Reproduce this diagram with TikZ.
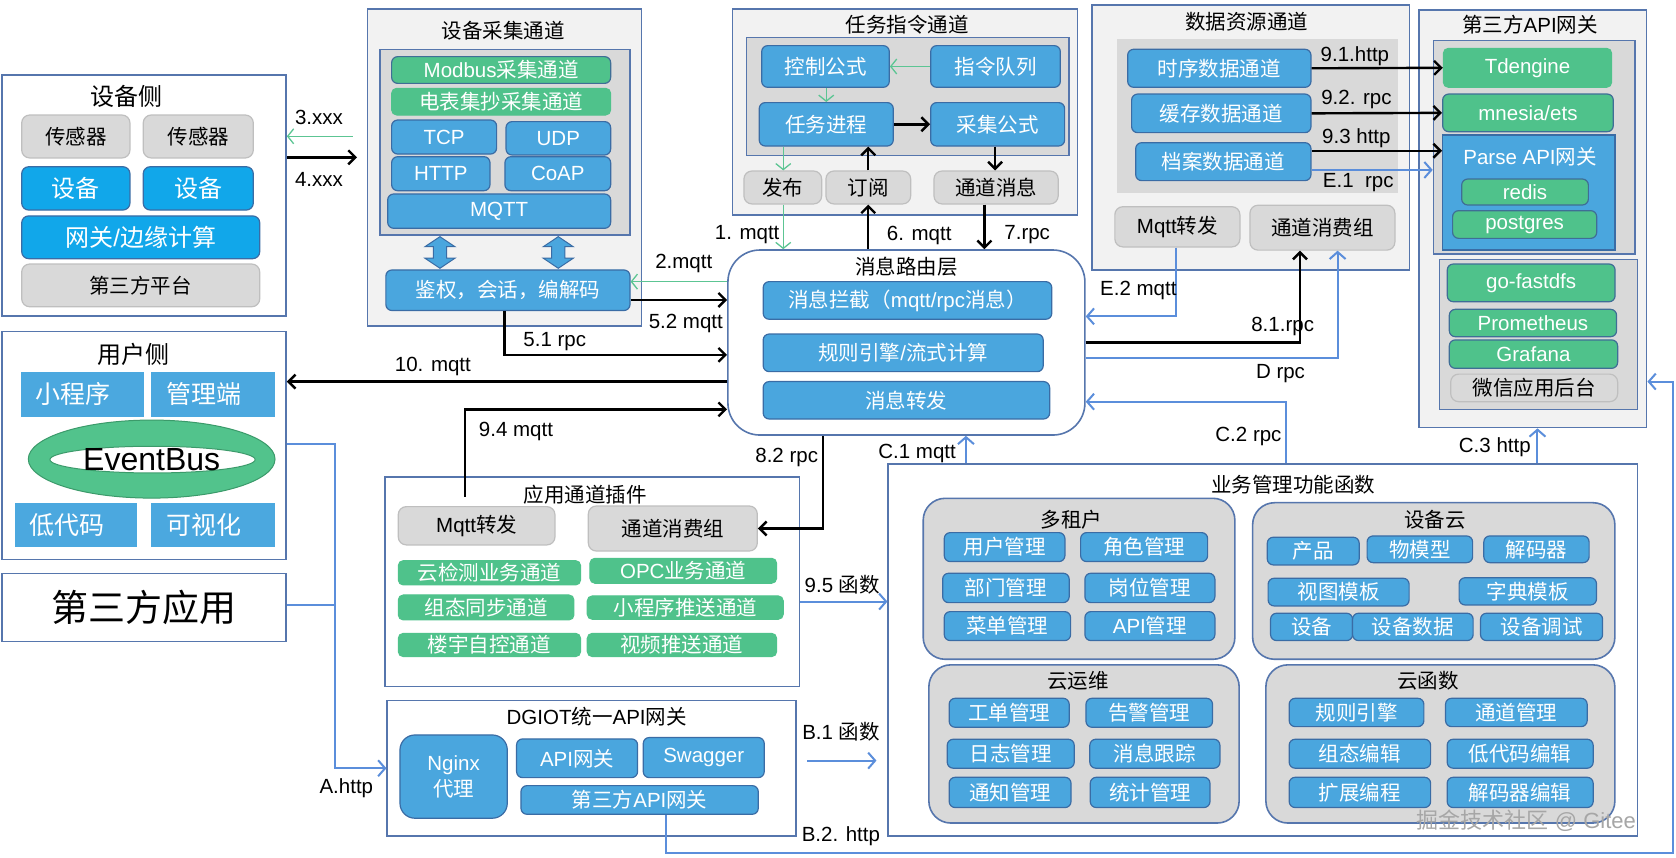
\documentclass[tikz,border=0pt]{standalone}
\usepackage{fontspec}
\setmainfont{Liberation Sans}
\newfontfamily\cjkfont{Noto Sans CJK SC}
\usetikzlibrary{arrows.meta}
\newcount\cjkcnt
\XeTeXinterchartokenstate=1
\newXeTeXintercharclass\cjkcls
\cjkcnt="4E00
\loop\ifnum\cjkcnt<"A000 \XeTeXcharclass\cjkcnt=\cjkcls \advance\cjkcnt by 1 \repeat
\cjkcnt="3000
\loop\ifnum\cjkcnt<"3040 \XeTeXcharclass\cjkcnt=\cjkcls \advance\cjkcnt by 1 \repeat
\cjkcnt="FF00
\loop\ifnum\cjkcnt<"FFF0 \XeTeXcharclass\cjkcnt=\cjkcls \advance\cjkcnt by 1 \repeat
\XeTeXinterchartoks 0 \cjkcls = {\begingroup\cjkfont}
\XeTeXinterchartoks 4095 \cjkcls = {\begingroup\cjkfont}
\XeTeXinterchartoks \cjkcls 0 = {\endgroup}
\XeTeXinterchartoks \cjkcls 4095 = {\endgroup}

\definecolor{bord}{HTML}{5676AD}
\definecolor{panel}{HTML}{F2F2F2}
\definecolor{grayp}{HTML}{D9D9D9}
\definecolor{grayb}{HTML}{BFBFBF}
\definecolor{bfill}{HTML}{4AA6DE}
\definecolor{bbord}{HTML}{3A6CA5}
\definecolor{bright}{HTML}{11A7EA}
\definecolor{gfill}{HTML}{4FC28B}
\definecolor{gbord}{HTML}{3F6E96}
\definecolor{garrow}{HTML}{5CC593}
\definecolor{barrow}{HTML}{5B8EDB}
\definecolor{ufill}{HTML}{4BA8DF}
\definecolor{egreen}{HTML}{52C38C}
\definecolor{egbord}{HTML}{3B9A6A}
\newcommand\fsz[1]{\fontsize{#1}{#1}\selectfont}
% box from corner (x1,y1) to (x2,y2) in picture units
\newcommand\bx[7][]{%
  \pgfmathsetmacro\bxcx{(#3+#5)/2}\pgfmathsetmacro\bxcy{(#4+#6)/2}%
  \pgfmathsetmacro\bxw{(#5-#3)*1.06888}\pgfmathsetmacro\bxh{(#6-#4)*1.06888}%
  \node[#1, minimum width=\bxw pt, minimum height=\bxh pt] (#2) at (\bxcx,\bxcy) {#7};}

\tikzset{
  every node/.style={inner sep=0pt, font=\fsz{20.5}},
  outbox/.style={draw=bord, line width=1.6pt, fill=white},
  chan/.style={draw=bord, line width=1.6pt, fill=panel},
  inpanel/.style={draw=bord, line width=1.4pt, fill=grayp},
  roundpanel/.style={draw=bord, line width=1.6pt, fill=grayp, rounded corners=22pt},
  bbox/.style={draw=bbord, line width=1.2pt, fill=bfill, rounded corners=6pt, text=white},
  brbox/.style={draw=bbord, line width=1.2pt, fill=bright, rounded corners=7pt, text=white, font=\fsz{24}},
  gybox/.style={draw=grayb, line width=1.2pt, fill=grayp, rounded corners=8pt},
  gbox/.style={draw=gbord, line width=1.2pt, fill=gfill, rounded corners=6pt, text=white},
  gboxn/.style={draw=gfill, line width=1pt, fill=gfill, rounded corners=5pt, text=white},
  ubox/.style={fill=ufill},
  ulab/.style={text=white, font=\fsz{25}, xshift=-9pt},
  blk/.style={line width=2.4pt, -{Straight Barb[length=7pt,width=14pt]}},
  grn/.style={draw=garrow, line width=1.3pt, -{Straight Barb[length=6pt,width=15pt]}},
  blu/.style={draw=barrow, line width=2pt, -{Straight Barb[length=7pt,width=16pt]}},
  blul/.style={draw=barrow, line width=2pt},
  dbl/.style={draw=bbord, line width=1pt, fill=bfill},
}

\begin{document}
\begin{tikzpicture}[x={(1.06888pt,0pt)}, y={(0pt,-1.06888pt)}]
\fill[white] (0,0) rectangle (1568,801.8);
\useasboundingbox (0,0) rectangle (1568,801.8);

% ---------- device side ----------
\bx[outbox]{devside}{1.6}{70.2}{267.6}{295.6}{}
\node[font=\fsz{24}] (devsidet) at (118.5,90.4) {设备侧};
\bx[gybox]{sens1}{20.3}{107.6}{121.6}{147.8}{传感器}
\bx[gybox]{sens2}{134}{107.6}{237}{147.8}{传感器}
\bx[brbox]{dev1}{20.3}{156}{121.6}{196.5}{设备}
\bx[brbox]{dev2}{134}{156}{237}{196.5}{设备}
\bx[brbox]{gw}{20.3}{202}{243}{242}{网关/边缘计算}
\bx[gybox]{tpplat}{20.3}{247}{243}{287}{第三方平台}

% ---------- user side ----------
\bx[outbox]{userside}{1.6}{310.3}{267.6}{523.3}{}
\node[font=\fsz{24}] (usersidet) at (124.7,332) {用户侧};
\bx[ubox, label={[ulab]center:小程序}]{mini}{19.3}{347.7}{134.7}{390.4}{}
\bx[ubox, label={[ulab]center:管理端}]{admin}{141}{347.7}{257.3}{390.4}{}
\bx[ubox, label={[ulab]center:低代码}]{lowcode}{14}{470.9}{128.5}{512}{}
\bx[ubox, label={[ulab]center:可视化}]{visual}{141}{470.9}{257.3}{512}{}
\fill[egreen, draw=egbord, line width=1pt] (141.9,429.5) ellipse [x radius=115.4, y radius=36.5];
\draw[egbord, fill=white, line width=1pt] (142.7,430) ellipse [x radius=96, y radius=12.5];
\node[font=\fsz{32}] (evbus) at (141.9,430) {EventBus};

\bx[outbox, font=\fsz{37}]{tpapp}{1.6}{536.4}{267.6}{600}{第三方应用}

% ---------- device collection channel ----------
\bx[chan]{devcol}{344}{8.7}{600.3}{305}{}
\node (devcolt) at (470.9,28.7) {设备采集通道};
\bx[inpanel]{devcolin}{355.5}{46.1}{589.4}{219.8}{}
\bx[gbox]{modbus}{366.4}{53}{571.3}{78}{Modbus采集通道}
\bx[gboxn]{meter}{366.4}{82.6}{571.3}{107.6}{电表集抄采集通道}
\bx[bbox]{tcp}{366.4}{112.3}{464.6}{144.1}{TCP}
\bx[bbox]{udp}{473.4}{113.8}{571.3}{145}{UDP}
\bx[bbox]{http}{366.4}{146.6}{458.4}{178.4}{HTTP}
\bx[bbox]{coap}{472.4}{146.6}{571.3}{178.4}{CoAP}
\bx[bbox]{mqttp}{362.7}{181.5}{571.3}{213.6}{MQTT}
\draw[dbl, shift={(411.6,236.2)}] (0,-14.8) -- (14,-5.4) -- (6.2,-5.4) -- (6.2,5.4) -- (14,5.4) -- (0,14.8) -- (-14,5.4) -- (-6.2,5.4) -- (-6.2,-5.4) -- (-14,-5.4) -- cycle;
\draw[dbl, shift={(522.3,236.2)}] (0,-14.8) -- (14,-5.4) -- (6.2,-5.4) -- (6.2,5.4) -- (14,5.4) -- (0,14.8) -- (-14,5.4) -- (-6.2,5.4) -- (-6.2,-5.4) -- (-14,-5.4) -- cycle;
\bx[bbox]{auth}{361}{252.6}{589.4}{290.5}{鉴权，会话，编解码}

% ---------- task command channel ----------
\bx[chan]{task}{685.4}{8.7}{1008}{201}{}
\node (taskt) at (849,23.4) {任务指令通道};
\bx[inpanel]{taskin}{698.5}{35.2}{1000}{145.6}{}
\bx[bbox]{ctrl}{712.6}{42.7}{832}{81.7}{控制公式}
\bx[bbox]{queue}{870.7}{42.7}{992}{81.7}{指令队列}
\bx[bbox]{proc}{710.3}{96}{835.7}{136.6}{任务进程}
\bx[bbox]{collect}{870.7}{96}{996}{136.6}{采集公式}
\bx[gybox]{pub}{696}{160}{768.7}{190.8}{发布}
\bx[gybox]{sub}{772.7}{160}{852}{190.8}{订阅}
\bx[gybox]{chmsg}{873.8}{160}{990}{190.8}{通道消息}

% ---------- data resource channel ----------
\bx[chan]{data}{1021.9}{4.7}{1318.5}{252.6}{}
\node (datat) at (1166.3,20.3) {数据资源通道};
\bx[fill=grayp]{datain}{1044.7}{36.8}{1307.6}{180.9}{}
\bx[bbox]{ts}{1055}{46.1}{1226.5}{81.7}{时序数据通道}
\bx[bbox]{cache}{1058.7}{88}{1226.5}{124.1}{缓存数据通道}
\bx[bbox]{archive}{1062.5}{133.5}{1226.5}{169}{档案数据通道}
\bx[gybox]{dmqtt}{1043}{193.4}{1160}{231}{Mqtt转发}
\bx[gybox]{dcons}{1169.4}{192}{1305}{234}{通道消费组}

% ---------- third party API gateway ----------
\bx[chan]{tp}{1327.6}{9.4}{1540.5}{400}{}
\node (tpt) at (1431.4,23.4) {第三方API网关};
\bx[inpanel]{tpin1}{1341}{38}{1529.6}{237.6}{}
\bx[gboxn]{tdengine}{1350.3}{45.2}{1507.8}{81.7}{Tdengine}
\bx[gbox]{mnesia}{1349.7}{88}{1509.3}{123.2}{mnesia/ets}
\bx[draw=bbord, line width=1.2pt, fill=bfill]{parse}{1349.7}{126.3}{1510.9}{233.9}{}
\node[text=white] (parset) at (1431.4,146.6) {Parse API网关};
\bx[gbox]{redis}{1367.5}{167.5}{1486}{191.8}{redis}
\bx[gbox]{pg}{1359}{197.1}{1493.8}{223}{postgres}
\bx[inpanel]{tpin2}{1346.5}{242.6}{1531.8}{383}{}
\bx[gbox]{fastdfs}{1354}{247}{1511}{282.3}{go-fastdfs}
\bx[gbox]{prom}{1355.9}{289.4}{1512.4}{315}{Prometheus}
\bx[gbox]{grafana}{1355.9}{318}{1513.4}{344.6}{Grafana}
\bx[gybox]{wechat}{1357.2}{350}{1513.4}{375.8}{微信应用后台}

% ---------- message routing layer ----------
\bx[outbox, rounded corners=32pt]{router}{681}{233.9}{1015}{407}{}
\node (routert) at (848,249.5) {消息路由层};
\bx[bbox]{intercept}{714}{263.5}{984}{298.7}{消息拦截（mqtt/rpc消息）}
\bx[bbox]{rules}{714}{312.5}{976}{347.7}{规则引擎/流式计算}
\bx[bbox]{fwd}{714}{357}{982}{392}{消息转发}

% ---------- application channel plugins ----------
\bx[outbox]{app}{360.2}{446.5}{747.8}{642.4}{}
\node (appt) at (547.3,463) {应用通道插件};
\bx[gybox]{amqtt}{372.6}{474}{519.2}{509.8}{Mqtt转发}
\bx[gybox]{acons}{550.4}{473.4}{708.5}{515.5}{通道消费组}
\bx[gboxn]{g1}{372.6}{524.5}{543.2}{547.3}{云检测业务通道}
\bx[gboxn]{g2}{551.9}{522.3}{726.6}{545.7}{OPC业务通道}
\bx[gboxn]{g3}{372.6}{556.6}{537}{580}{组态同步通道}
\bx[gboxn]{g4}{549.4}{557.5}{732.8}{579.4}{小程序推送通道}
\bx[gboxn]{g5}{372.6}{592.5}{543.2}{614.3}{楼宇自控通道}
\bx[gboxn]{g6}{549.4}{592.5}{726.6}{614.3}{视频推送通道}

% ---------- DGIOT gateway ----------
\bx[outbox]{dgiot}{362.3}{655.5}{744.6}{782}{}
\node (dgiott) at (558.2,670.4) {DGIOT统一API网关};
\bx[bbox, rounded corners=15pt, align=center, font=\fontsize{20.5}{26}\selectfont]{nginx}{374.2}{687.6}{474.6}{765.5}{Nginx\\代理}
\bx[bbox]{apigw}{483.3}{691.3}{596.5}{727.5}{API网关}
\bx[bbox]{swagger}{601.8}{690}{715}{727.5}{Swagger}
\bx[bbox]{tpapi}{487.4}{735}{709.4}{761.8}{第三方API网关}

% ---------- business functions ----------
\bx[outbox]{biz}{831}{434}{1532}{782}{}
\node (bizt) at (1210,453.7) {业务管理功能函数};
\bx[roundpanel]{tenant}{863.7}{466.2}{1155.3}{616.8}{}
\node (tenantt) at (1002.5,485.8) {多租户};
\bx[bbox]{um}{883.4}{498.3}{996.3}{525.4}{用户管理}
\bx[bbox]{rm}{1011}{498.3}{1129.8}{525.4}{角色管理}
\bx[bbox]{dm}{881.9}{536.3}{1000.3}{563.8}{部门管理}
\bx[bbox]{pm}{1015}{536.3}{1136.6}{563.8}{岗位管理}
\bx[bbox]{mm}{883.4}{572.2}{1001.6}{599.3}{菜单管理}
\bx[bbox]{am}{1015}{572.2}{1136.6}{599.3}{API管理}
\bx[roundpanel]{ops}{869}{622}{1159.3}{770}{}
\node (opst) at (1008.7,636.8) {云运维};
\bx[bbox]{wo}{888}{653.3}{1000.3}{680.4}{工单管理}
\bx[bbox]{alarm}{1016}{653.3}{1134.4}{680.4}{告警管理}
\bx[bbox]{logm}{886.2}{691.6}{1005}{718.7}{日志管理}
\bx[bbox]{trace}{1019.6}{691.6}{1141.3}{718.7}{消息跟踪}
\bx[bbox]{notice}{888}{727.2}{1002}{755.5}{通知管理}
\bx[bbox]{statm}{1020}{727.2}{1132}{755.5}{统计管理}
\bx[roundpanel]{devcloud}{1171.9}{470.3}{1510.8}{616.8}{}
\node (devcloudt) at (1342.4,486.4) {设备云};
\bx[bbox]{prod}{1185.6}{502.6}{1271.6}{528.5}{产品}
\bx[bbox]{thing}{1279}{501.4}{1377.7}{526.4}{物模型}
\bx[bbox]{decoder}{1388.2}{501.4}{1486.7}{526.4}{解码器}
\bx[bbox]{viewtpl}{1186.4}{541}{1318.3}{566.9}{视图模板}
\bx[bbox]{dicttpl}{1365.1}{540.5}{1493.6}{566}{字典模板}
\bx[bbox]{devx}{1188.7}{573.7}{1265.4}{599.3}{设备}
\bx[bbox]{devdata}{1265.4}{573.7}{1378.2}{599.3}{设备数据}
\bx[bbox]{devdbg}{1385.1}{573.7}{1499.3}{599.3}{设备调试}
\bx[roundpanel]{cloudfn}{1184.3}{622}{1510.8}{770}{}
\node (cloudfnt) at (1336.1,636.8) {云函数};
\bx[bbox]{rule2}{1206.1}{653.3}{1332.1}{679.8}{规则引擎}
\bx[bbox]{chmgmt}{1352.4}{653.3}{1484.9}{679.8}{通道管理}
\bx[bbox]{cfgedit}{1206.1}{691.6}{1338.4}{718.7}{组态编辑}
\bx[bbox]{lcedit}{1353.9}{691.6}{1490.5}{718.7}{低代码编辑}
\bx[bbox]{extprog}{1206.1}{727.2}{1338.4}{755.5}{扩展编程}
\bx[bbox]{decedit}{1353.9}{727.2}{1490.5}{755.5}{解码器编辑}

\node[text=black!35, font=\fsz{22}] (wm) at (1428,768) {掘金技术社区 @ Gitee};

% ---------- helper coordinates ----------
\coordinate (c3s) at (330,127.5);
\coordinate (c4e) at (334,147.2);
\coordinate (y2) at (0,263.5);
\coordinate (y52) at (0,280.6);
\coordinate (x51) at (472,0);
\coordinate (y51) at (0,332);
\coordinate (y10) at (0,357);
\coordinate (s94) at (435,464.6);
\coordinate (y94) at (0,383);
\coordinate (x82) at (770,0);
\coordinate (yA) at (0,415.4);
\coordinate (xA) at (313.4,0);
\coordinate (yA2) at (0,566);
\coordinate (y95) at (0,562.8);
\coordinate (b1s) at (755,711.6);
\coordinate (b1e) at (820,711.6);
\coordinate (xB2) at (623,0);
\coordinate (yB2) at (0,798.3);
\coordinate (xB2r) at (1565,0);
\coordinate (yB2t) at (0,357);
\coordinate (xC1) at (903.7,0);
\coordinate (xC2) at (1203,0);
\coordinate (yC2) at (0,375.8);
\coordinate (xC3) at (1438.4,0);
\coordinate (yD) at (0,334.6);
\coordinate (xD) at (1251.4,0);
\coordinate (y81) at (0,320.6);
\coordinate (x81) at (1216.2,0);
\coordinate (xE2) at (1100,0);
\coordinate (yE2) at (0,296);
\coordinate (y93) at (0,141);
\coordinate (yE1) at (0,159);
\coordinate (x773) at (773,0);
\coordinate (x733) at (732.8,0);
\coordinate (x812) at (812.3,0);
\coordinate (x931) at (931,0);
\coordinate (x921) at (921,0);

% ---------- connectors ----------
\draw[grn] (c3s) -- (devside.east |- c3s);
\draw[blk] (devside.east |- c4e) -- (c4e);
\draw[grn] (router.west |- y2) -- (auth.east |- y2);
\draw[blk] (auth.east |- y52) -- (router.west |- y52);
\draw[blk] (auth.south -| x51) |- (router.west |- y51);
\draw[blk] (router.west |- y10) -- (userside.east |- y10);
\draw[blk] (s94) |- (router.west |- y94);
\draw[blk] (router.south -| x82) |- (acons.east);

\draw[grn] (queue.west) -- (ctrl.east);
\draw[grn] (ctrl.south -| x773) -- (proc.north -| x773);
\draw[blk] (proc.east) -- (collect.west);
\draw[grn] (proc.south -| x733) -- (pub.north -| x733);
\draw[blk] (sub.north -| x812) -- (proc.south -| x812);
\draw[blk] (collect.south -| x931) -- (chmsg.north -| x931);
\draw[grn] (pub.south -| x733) -- (router.north -| x733);
\draw[blk] (router.north -| x812) -- (sub.south -| x812);
\draw[blk] (chmsg.south -| x921) -- (router.north -| x921);

\draw[blk] (ts.east) -- (tdengine.west);
\draw[blk] (cache.east) -- (mnesia.west);
\draw[blk] (archive.east |- y93) -- (parse.west |- y93);
\draw[blu] (archive.east |- yE1) -- (tpin1.west |- yE1);
\draw[blu] (dmqtt.south -| xE2) |- (router.east |- yE2);
\draw[blk] (router.east |- y81) -| (dcons.south -| x81);
\draw[blu] (router.east |- yD) -| (dcons.south -| xD);
\draw[blu] (biz.north -| xC2) |- (router.east |- yC2);
\draw[blu] (biz.north -| xC1) -- (router.south -| xC1);
\draw[blu] (biz.north -| xC3) -- (tp.south -| xC3);

\draw[blu] (userside.east |- yA) -| (xA |- dgiot.west) -- (dgiot.west);
\draw[blul] (tpapp.east |- yA2) -- (xA |- yA2);
\draw[blu] (app.east |- y95) -- (biz.west |- y95);
\draw[blu] (b1s) -- (b1e);
\draw[blu] (tpapi.south -| xB2) -- (xB2 |- yB2) -- (xB2r |- yB2) -- (xB2r |- yB2t) -- (tp.east |- yB2t);

% ---------- connector labels ----------
\node (l3) at (298.4,109.7) {3.xxx};
\node (l4) at (298.4,167.8) {4.xxx};
\node (l2) at (639.7,246.4) {2.mqtt};
\node (l52) at (641.6,303) {5.2 mqtt};
\node (l51) at (519,320) {5.1 rpc};
\node (l10) at (405,343) {10. mqtt};
\node (l94) at (482.7,403.2) {9.4 mqtt};
\node (l82) at (736,427.8) {8.2 rpc};
\node (l1) at (699,219.9) {1. mqtt};
\node (l6) at (860,219.9) {6. mqtt};
\node (l7) at (961,219.9) {7.rpc};
\node (lC1) at (858,424) {C.1 mqtt};
\node (lC2) at (1168,408) {C.2 rpc};
\node (lC3) at (1398.5,418.5) {C.3 http};
\node (lD) at (1198,349.3) {D rpc};
\node (l81) at (1200,305) {8.1.rpc};
\node (lE2) at (1065,271.3) {E.2 mqtt};
\node (l91) at (1267.6,53) {9.1.http};
\node (l92) at (1269,92.9) {9.2. rpc};
\node (l93) at (1269,129.4) {9.3 http};
\node (lE1) at (1270.7,171) {E.1\ \ rpc};
\node (l95) at (788,547.3) {9.5 函数};
\node (lB1) at (786.8,684.5) {B.1 函数};
\node (lB2) at (786.7,782.7) {B.2. http};
\node (lA) at (324,737.5) {A.http};
\end{tikzpicture}
\end{document}
